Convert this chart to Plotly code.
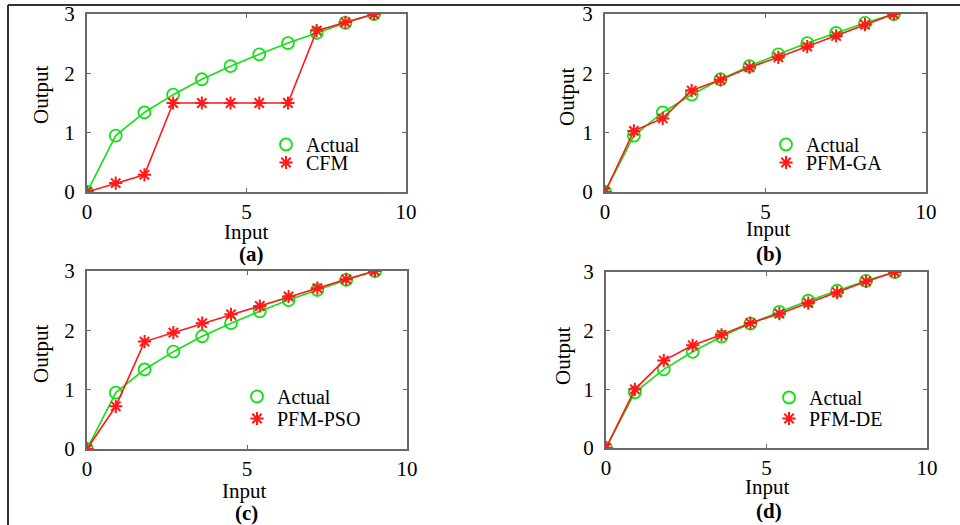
import plotly.graph_objects as go

# ---------------- data ----------------
x_input = [0, 0.9, 1.8, 2.7, 3.6, 4.5, 5.4, 6.3, 7.2, 8.1, 9.0]
actual = [0, 0.95, 1.34, 1.64, 1.90, 2.12, 2.32, 2.51, 2.68, 2.85, 3.0]
cfm = [0, 0.15, 0.29, 1.50, 1.50, 1.50, 1.50, 1.50, 2.72, 2.86, 3.0]
pfm_ga = [0, 1.03, 1.24, 1.71, 1.89, 2.10, 2.27, 2.45, 2.63, 2.82, 3.0]
pfm_pso = [0, 0.72, 1.81, 1.96, 2.12, 2.27, 2.41, 2.57, 2.71, 2.86, 3.0]
pfm_de = [0, 1.00, 1.49, 1.75, 1.93, 2.13, 2.29, 2.47, 2.65, 2.84, 3.0]

series_names = ["CFM", "PFM-GA", "PFM-PSO", "PFM-DE"]
series_values = [cfm, pfm_ga, pfm_pso, pfm_de]
panel_labels = ["(a)", "(b)", "(c)", "(d)"]
x_ticks = [0, 5, 10]
y_ticks = [0, 1, 2, 3]

# ---------------- layout constants ----------------
W, H = 960, 525
FONT = "Liberation Serif"
GREEN = "rgb(20,225,20)"
RED = "rgb(255,25,25)"
FRAME = "rgb(105,105,105)"
TICK_SIZE, TITLE_SIZE, LEGEND_SIZE, LABEL_SIZE = 21, 21, 20, 21

# plot areas in pixels: (left, right, top, bottom)
areas = [(87, 406, 14, 192), (605, 926, 14, 192),
         (87, 407, 271, 449), (606, 927, 272, 448)]
# axis-title positions in pixels
output_pos = [(41, 95), (567, 97), (41, 354), (563, 356)]
input_pos = [(246, 232), (768, 229), (244, 491), (767, 487)]
label_pos = [(251, 254), (769, 254), (247, 513), (769, 511)]
# legend boxes: (left, top of "Actual" row, top of series row)
legend_pos = [(266, 125, 143), (766, 125, 143), (237, 377, 399), (769, 378, 399)]

fig = go.Figure()
layout = dict(width=W, height=H,
              margin=dict(l=0, r=0, t=0, b=0, pad=0, autoexpand=False),
              paper_bgcolor="white", plot_bgcolor="white",
              font=dict(family=FONT, size=20, color="black"),
              showlegend=True)
annotations = []

for i in range(4):
    n = "" if i == 0 else str(i + 1)
    xa, ya = "x" + n, "y" + n
    L, R, T, B = areas[i]
    layout["xaxis" + n] = dict(
        domain=[L / W, R / W], range=[0, 10], tickvals=x_ticks,
        showgrid=False, zeroline=False, showline=True, linecolor=FRAME,
        linewidth=2, mirror="ticks", ticks="inside", ticklen=4,
        tickcolor=FRAME, tickwidth=1, anchor=ya, automargin=False,
        tickfont=dict(family=FONT, size=TICK_SIZE, color="black"))
    layout["yaxis" + n] = dict(
        domain=[1 - B / H, 1 - T / H], range=[0, 3], tickvals=y_ticks,
        showgrid=False, zeroline=False, showline=True, linecolor=FRAME,
        linewidth=2, mirror="ticks", ticks="inside", ticklen=4,
        tickcolor=FRAME, tickwidth=1, anchor=xa, automargin=False,
        ticklabelstandoff=6,
        tickfont=dict(family=FONT, size=TICK_SIZE, color="black"))

    leg_a = "legend" if i == 0 else "legend" + str(2 * i + 1)
    leg_s = "legend" + str(2 * i + 2)
    lx, ly1, ly2 = legend_pos[i]
    for key, ly in ((leg_a, ly1), (leg_s, ly2)):
        layout[key] = dict(x=lx / W, y=1 - ly / H, xanchor="left", yanchor="top",
                           bgcolor="rgba(0,0,0,0)", borderwidth=0,
                           font=dict(family=FONT, size=LEGEND_SIZE, color="black"),
                           itemwidth=30, tracegroupgap=0)

    fig.add_trace(go.Scatter(
        x=x_input, y=actual, mode="lines+markers", xaxis=xa, yaxis=ya,
        line=dict(color=GREEN, width=1.6), showlegend=False,
        marker=dict(symbol="circle-open", size=12, color=GREEN,
                    line=dict(width=1.8, color=GREEN))))
    fig.add_trace(go.Scatter(
        x=x_input, y=series_values[i], mode="lines+markers", xaxis=xa, yaxis=ya,
        line=dict(color=RED, width=1.6), showlegend=False,
        marker=dict(symbol="asterisk-open", size=11, color=RED,
                    line=dict(width=2, color=RED))))
    # legend-only entries (marker only, as in the reference)
    fig.add_trace(go.Scatter(
        x=[None], y=[None], mode="markers", xaxis=xa, yaxis=ya,
        name="Actual", legend=leg_a, showlegend=True,
        marker=dict(symbol="circle-open", size=12, color=GREEN,
                    line=dict(width=1.8, color=GREEN))))
    fig.add_trace(go.Scatter(
        x=[None], y=[None], mode="markers", xaxis=xa, yaxis=ya,
        name=series_names[i], legend=leg_s, showlegend=True,
        marker=dict(symbol="asterisk-open", size=11, color=RED,
                    line=dict(width=2, color=RED))))

    ox, oy = output_pos[i]
    annotations.append(dict(text="Output", x=ox / W, y=1 - oy / H, xref="paper",
                            yref="paper", showarrow=False, textangle=-90,
                            xanchor="center", yanchor="middle",
                            font=dict(family=FONT, size=TITLE_SIZE)))
    ix, iy = input_pos[i]
    annotations.append(dict(text="Input", x=ix / W, y=1 - iy / H, xref="paper",
                            yref="paper", showarrow=False,
                            xanchor="center", yanchor="middle",
                            font=dict(family=FONT, size=TITLE_SIZE)))
    px_, py_ = label_pos[i]
    annotations.append(dict(text="<b>" + panel_labels[i] + "</b>", x=px_ / W,
                            y=1 - py_ / H, xref="paper", yref="paper",
                            showarrow=False, xanchor="center", yanchor="middle",
                            font=dict(family=FONT, size=LABEL_SIZE)))

layout["annotations"] = annotations
# outer frame lines (top and left) as in the reference
layout["shapes"] = [
    dict(type="line", xref="paper", yref="paper", x0=8 / W, x1=1.0,
         y0=1 - 5 / H, y1=1 - 5 / H, line=dict(color="rgb(50,50,50)", width=2)),
    dict(type="line", xref="paper", yref="paper", x0=8 / W, x1=8 / W,
         y0=0, y1=1 - 5 / H, line=dict(color="rgb(50,50,50)", width=2)),
]
fig.update_layout(**layout)
fig.write_html("out.html",
               post_script="document.body.style.margin='0';"
                           "document.body.style.padding='0';")
